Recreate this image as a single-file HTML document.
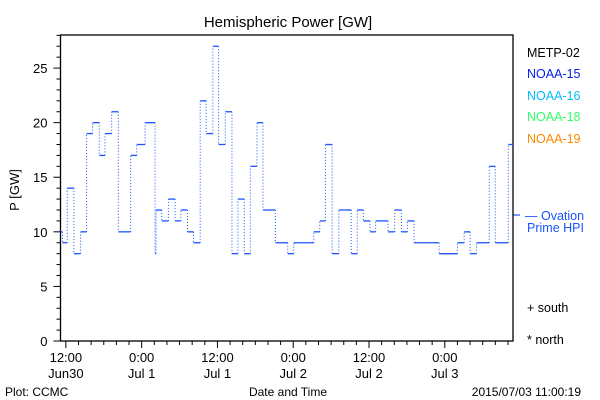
<!DOCTYPE html>
<html><head><meta charset="utf-8"><style>
body{margin:0;background:#fff;}
svg{display:block;font-family:"Liberation Sans",sans-serif;}
</style></head><body>
<svg id="chart" width="600" height="400" viewBox="0 0 600 400">
<rect width="600" height="400" fill="#fff"/>
<text x="288" y="27" font-size="15" text-anchor="middle">Hemispheric Power [GW]</text>
<text x="0" y="0" font-size="13" text-anchor="middle" transform="translate(19,190) rotate(-90)">P [GW]</text>
<text x="288" y="396" font-size="12" text-anchor="middle">Date and Time</text>
<text x="5" y="396" font-size="12">Plot: CCMC</text>
<text x="581" y="396" font-size="12" text-anchor="end">2015/07/03 11:00:19</text>
<g font-size="12.5">
<text x="527" y="57" fill="#000">METP-02</text>
<text x="527" y="78" fill="#0022ee">NOAA-15</text>
<text x="527" y="100" fill="#00bbff">NOAA-16</text>
<text x="527" y="121" fill="#33ff66">NOAA-18</text>
<text x="527" y="143" fill="#ff8800">NOAA-19</text>
<text x="525" y="220" fill="#1a55ff">— Ovation</text>
<text x="527" y="232" fill="#1a55ff">Prime HPI</text>
<text x="527" y="312" fill="#000">+ south</text>
<text x="527" y="344" fill="#000">* north</text>
</g>
<line x1="513" y1="215" x2="520" y2="215" stroke="#1a55ff" stroke-width="1.2"/>
<g id="axes"></g>
<g id="series"></g>
</svg>
<script>
const stepStartHours=[11.15,11.47,12.21,13.27,14.33,15.28,16.23,17.29,18.19,19.25,20.31,22.26,23.22,24.54,26.12,26.28,27.18,28.24,29.3,30.2,31.26,32.21,33.27,34.22,35.28,36.18,37.24,38.3,39.25,40.25,41.21,42.26,43.21,45.17,47.13,48.08,51.26,52.2,53.1,54.16,55.22,57.18,58.14,59.1,60.15,61.05,63.01,64.07,65.13,66.08,67.14,71.1,74.0,75.07,76.02,77.03,79.04,79.99,82.05];
const powerValues=[10,9,14,8,10,19,20,17,19,21,10,17,18,20,8,12,11,13,11,12,10,9,22,19,27,18,21,8,13,8,16,20,12,9,8,9,10,11,18,8,12,8,12,11,10,11,10,12,10,11,9,8,9,10,8,9,16,9,18];
const endHour=82.85;
const yTickLabels=["0","5","10","15","20","25"];
const xTickLabels=[["12:00","Jun30"],["0:00","Jul 1"],["12:00","Jul 1"],["0:00","Jul 2"],["12:00","Jul 2"],["0:00","Jul 3"]];
const xTickHours=[12,24,36,48,60,72];

const L=60.5,R=513,T=35,B=341,H0=11.15,H1=82.8,Ymax=28.03;
const xs=h=>L+(h-H0)/(H1-H0)*(R-L);
const ys=v=>B-v/Ymax*(B-T);
const NS="http://www.w3.org/2000/svg";
const axes=document.getElementById('axes'),ser=document.getElementById('series');
function mk(tag,attrs,parent){const e=document.createElementNS(NS,tag);for(const k in attrs)e.setAttribute(k,attrs[k]);parent.appendChild(e);return e;}
const frame=mk('rect',{x:L,y:T,width:R-L,height:B-T,fill:'none',stroke:'#000','stroke-width':1.3},axes);


for(let v=0;v<=28;v++){
  const t=mk('line',{x1:L-(v%5===0?7:4),x2:L,y1:ys(v),y2:ys(v),stroke:'#000'},axes);
  
  
}
yTickLabels.forEach(s=>{
  const t=mk('text',{x:L-13,y:ys(+s)+5,'font-size':13,'text-anchor':'end'},axes);t.textContent=s;
  
  
});
for(let h=12;h<=H1;h+=2){
  const major=(h%12===0);
  const t=mk('line',{x1:xs(h),x2:xs(h),y1:B,y2:B+(major?7:4),stroke:'#000'},axes);
  
  
}
xTickLabels.forEach((lab,i)=>{
  const x=xs(xTickHours[i]);
  const a=mk('text',{x:x,y:362,'font-size':13,'text-anchor':'middle'},axes);a.textContent=lab[0];
  
  
  const b=mk('text',{x:x,y:378,'font-size':13,'text-anchor':'middle'},axes);b.textContent=lab[1];
  
  
});
const col='#1a55ff';
for(let i=0;i<powerValues.length;i++){
  const x1=xs(stepStartHours[i]),x2=xs(i+1<stepStartHours.length?stepStartHours[i+1]:endHour);
  const y=ys(powerValues[i]);
  const s=mk('line',{x1:x1,x2:x2,y1:y,y2:y,stroke:col,'stroke-width':1.3},ser);
  
  
  if(i+1<powerValues.length){
    const v=mk('line',{x1:x2,x2:x2,y1:y,y2:ys(powerValues[i+1]),stroke:col,'stroke-width':1,'stroke-dasharray':'1,2'},ser);
    
    
  }
}
</script>
</body></html>
